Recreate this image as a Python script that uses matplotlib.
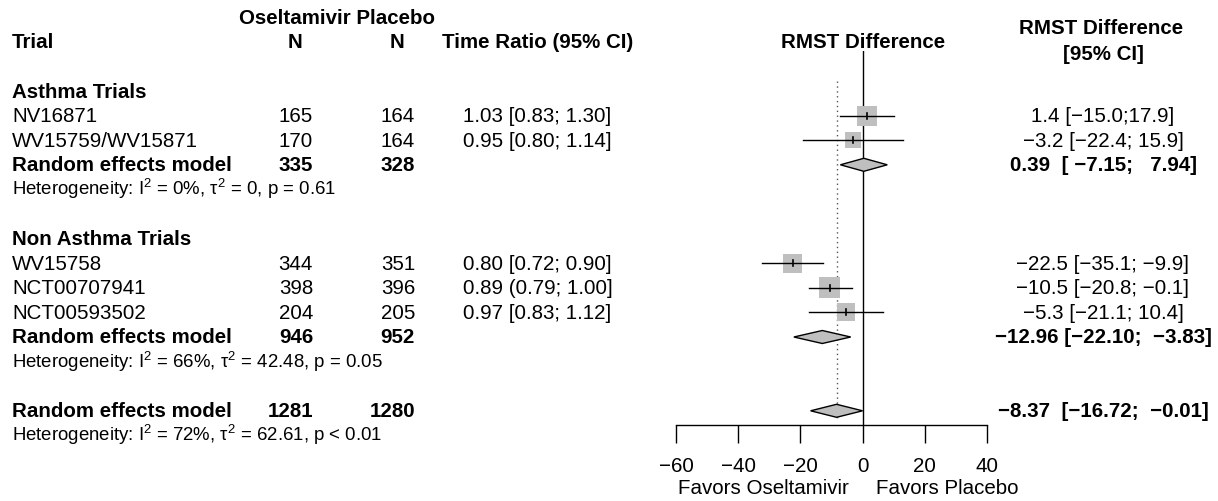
import matplotlib
matplotlib.use("Agg")
import matplotlib.pyplot as plt
from matplotlib.patches import Polygon

plt.rcParams['font.family'] = ['Liberation Sans', 'DejaVu Sans']
plt.rcParams['mathtext.fontset'] = 'custom'
plt.rcParams['mathtext.rm'] = 'Liberation Sans'
plt.rcParams['mathtext.it'] = 'Liberation Sans'
plt.rcParams['mathtext.default'] = 'rm'

# ---------------- data ----------------
trials = ["NV16871", "WV15759/WV15871", "WV15758", "NCT00707941", "NCT00593502"]
trial_group = ["Asthma Trials", "Asthma Trials", "Non Asthma Trials", "Non Asthma Trials", "Non Asthma Trials"]
n_oseltamivir = [165, 170, 344, 398, 204]
n_placebo = [164, 164, 351, 396, 205]
time_ratio_labels = ["1.03 [0.83; 1.30]", "0.95 [0.80; 1.14]", "0.80 [0.72; 0.90]",
                     "0.89 (0.79; 1.00]", "0.97 [0.83; 1.12]"]
rmst_est = [1.4, -3.2, -22.5, -10.5, -5.3]
rmst_lo_drawn = [-7.3, -19.3, -32.2, -17.3, -17.3]
rmst_hi_drawn = [10.2, 12.9, -12.7, -3.4, 6.6]
rmst_labels = ["1.4 [\u221215.0;17.9]", "\u22123.2 [\u221222.4; 15.9]", "\u221222.5 [\u221235.1; \u22129.9]",
               "\u221210.5 [\u221220.8; \u22120.1]", "\u22125.3 [\u221221.1; 10.4]"]
box_weight = [20, 16, 19, 21, 18]

groups = ["Asthma Trials", "Non Asthma Trials"]
group_n_oseltamivir = [335, 946]
group_n_placebo = [328, 952]
group_est = [0.39, -12.96]
group_lo = [-7.15, -22.10]
group_hi = [7.94, -3.83]
group_labels = ["0.39  [ \u22127.15;   7.94]", "\u221212.96 [\u221222.10;  \u22123.83]"]
group_het = ["Heterogeneity: I$^{2}$ = 0%, \u03c4$^{2}$ = 0, p = 0.61",
             "Heterogeneity: I$^{2}$ = 66%, \u03c4$^{2}$ = 42.48, p = 0.05"]

overall_n_oseltamivir = 1281
overall_n_placebo = 1280
overall_est = -8.37
overall_lo = -16.72
overall_hi = -0.01
overall_label = "\u22128.37  [\u221216.72;  \u22120.01]"
overall_het = "Heterogeneity: I$^{2}$ = 72%, \u03c4$^{2}$ = 62.61, p < 0.01"

x_ticks = [-60, -40, -20, 0, 20, 40]

# ---------------- layout ----------------
W, H = 1218, 502
fig = plt.figure(figsize=(W / 100, H / 100), dpi=100)

ROW0 = 92.0
DY = 24.6


def ypix(r):
    return ROW0 + DY * r


FS = 14.8
FS_H = 13.4

# forest axes geometry (pixels)
AX_L, AX_R = 676.0, 987.0
AX_T, AX_B = 52.0, 426.0
XMIN, XMAX = -60, 40
ax = fig.add_axes([AX_L / W, 1 - AX_B / H, (AX_R - AX_L) / W, (AX_B - AX_T) / H])
ax.set_xlim(XMIN, XMAX)
ax.set_ylim((AX_B - ROW0) / DY, (AX_T - ROW0) / DY)
ax.patch.set_visible(False)
for s in ["top", "right", "left"]:
    ax.spines[s].set_visible(False)
ax.spines["bottom"].set_linewidth(1.0)
ax.set_yticks([])
ax.set_xticks(x_ticks)
ax.set_xticklabels([("\u2212%d" % -t) if t < 0 else str(t) for t in x_ticks], fontsize=FS)
ax.tick_params(axis="x", length=13, width=1.0, pad=9)

px_per_unit_x = (AX_R - AX_L) / (XMAX - XMIN)

# zero line and pooled-effect dotted line
ax.axvline(0, color="black", lw=1.0, zorder=1)
ax.plot([overall_est, overall_est], [(82 - ROW0) / DY, (420 - ROW0) / DY],
        color="#555555", lw=1.0, ls=(0, (1, 2.5)), zorder=1)

# study rows
study_rows = [1, 2, 7, 8, 9]
for i, r in enumerate(study_rows):
    side = box_weight[i]
    ax.scatter([rmst_est[i]], [r], marker="s", s=(side * 0.72) ** 2, color="#bfbfbf",
               edgecolors="none", zorder=2)
    ax.plot([rmst_lo_drawn[i], rmst_hi_drawn[i]], [r, r], color="black", lw=1.0, zorder=3)
    ax.plot([rmst_est[i], rmst_est[i]], [r - 3 / DY, r + 3 / DY], color="black", lw=1.2, zorder=3)

# diamonds
h = 6.5 / DY


def diamond(est, lo, hi, r):
    poly = Polygon([(lo, r), (est, r - h), (hi, r), (est, r + h)], closed=True,
                   facecolor="#bfbfbf", edgecolor="black", lw=1.0, zorder=4)
    ax.add_patch(poly)


group_rows = [3, 10]
for g in range(2):
    diamond(group_est[g], group_lo[g], group_hi[g], group_rows[g])
diamond(overall_est, overall_lo, overall_hi, 13)

# ---------------- text overlay ----------------
tx = fig.add_axes([0, 0, 1, 1])
tx.set_xlim(0, W)
tx.set_ylim(H, 0)
tx.axis("off")

zero_px = AX_L + (0 - XMIN) * px_per_unit_x


def t(x, y, s, ha="left", bold=False, fs=FS, va="center"):
    tx.text(x, y, s, ha=ha, va=va, fontsize=fs,
            fontweight="bold" if bold else "normal", color="black")


# headers
t(239, 18, "Oseltamivir Placebo", bold=True)
t(12, 42, "Trial", bold=True)
t(295, 42, "N", ha="center", bold=True)
t(397, 42, "N", ha="center", bold=True)
t(442, 42, "Time Ratio (95% CI)", bold=True)
t(zero_px, 43, "RMST Difference", ha="center", bold=True)
t(1101, 28, "RMST Difference", ha="center", bold=True)
t(1103, 55, "[95% CI]", ha="center", bold=True)

NX1, NX2, TRX, RX = 313, 415, 463, 1103

# group headings
t(12, ypix(0), groups[0], bold=True)
t(12, ypix(6), groups[1], bold=True)

for i, r in enumerate(study_rows):
    y = ypix(r)
    t(12, y, trials[i])
    t(NX1, y, str(n_oseltamivir[i]), ha="right")
    t(NX2, y, str(n_placebo[i]), ha="right")
    t(TRX, y, time_ratio_labels[i])
    t(RX, y, rmst_labels[i], ha="center")

for g in range(2):
    y = ypix(group_rows[g])
    t(12, y, "Random effects model", bold=True)
    t(NX1, y, str(group_n_oseltamivir[g]), ha="right", bold=True)
    t(NX2, y, str(group_n_placebo[g]), ha="right", bold=True)
    t(RX, y, group_labels[g], ha="center", bold=True)
    t(12, ypix(group_rows[g] + 1) + 5, group_het[g], fs=FS_H, va="baseline")

y = ypix(13)
t(12, y, "Random effects model", bold=True)
t(NX1, y, str(overall_n_oseltamivir), ha="right", bold=True)
t(NX2, y, str(overall_n_placebo), ha="right", bold=True)
t(RX, y, overall_label, ha="center", bold=True)
t(12, ypix(14) + 5, overall_het, fs=FS_H, va="baseline")

# favours labels
t(849, 489, "Favors Oseltamivir", ha="right")
t(876, 489, "Favors Placebo", ha="left")

fig.savefig("out.png", dpi=100)
